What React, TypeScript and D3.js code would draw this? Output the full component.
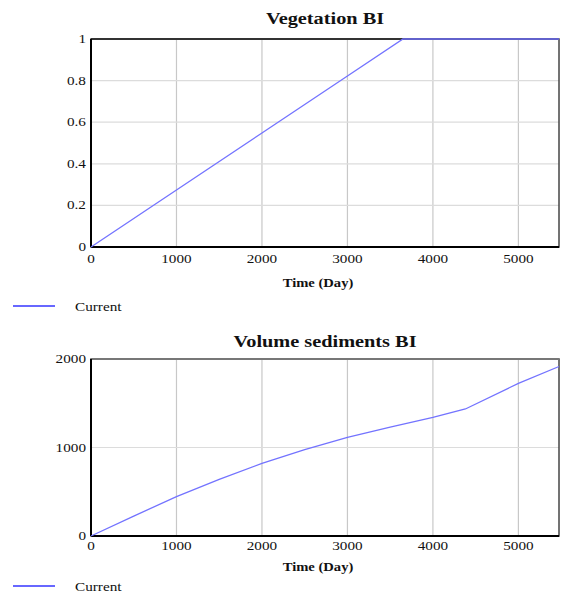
import React from 'react';
import * as d3 from 'd3';

// x axis shared by both panels (days)
const timeTicks = [0, 1000, 2000, 3000, 4000, 5000];
const timeMax = 5475;

// Vegetation BI
const vegTime = [0, 1000, 2000, 3000, 3650, 4500, 5475];
const vegValue = [0, 0.274, 0.548, 0.822, 1, 1, 1];
const vegTicks = [0, 0.2, 0.4, 0.6, 0.8, 1];

// Volume sediments BI
const sedTime = [0, 500, 1000, 1500, 2000, 2500, 3000, 3500, 4000, 4380, 5000, 5475];
const sedValue = [0, 225, 445, 640, 820, 975, 1115, 1230, 1340, 1435, 1725, 1915];
const sedTicks = [0, 1000, 2000];

const SX = 1.27; // the source image is stretched horizontally
const FONT = '"Liberation Serif", "Times New Roman", serif';

interface PanelProps {
  title: string;
  top: number;
  bottom: number;
  xs: number[];
  ys: number[];
  yMax: number;
  yTicks: number[];
  titleY: number;
  tickY: number;
  labelY: number;
  legendY: number;
  topStroke: string;
}

const T: React.FC<{ x: number; y: number; size: number; anchor?: string; weight?: string | number; children: React.ReactNode }> = ({ x, y, size, anchor = 'middle', weight = 'normal', children }) => (
  <text
    transform={`translate(${x},${y}) scale(${SX},1)`}
    textAnchor={anchor}
    fontSize={size}
    fontWeight={weight}
    fontFamily={FONT}
    fill="#111"
  >
    {children}
  </text>
);

const Panel: React.FC<PanelProps> = ({ title, top, bottom, xs, ys, yMax, yTicks, titleY, tickY, labelY, legendY, topStroke }) => {
  const left = 91;
  const right = 559;
  const x = d3.scaleLinear().domain([0, timeMax]).range([left, right]);
  const y = d3.scaleLinear().domain([0, yMax]).range([bottom, top]);
  const line = d3.line<number>()
    .x((_, i) => x(xs[i]))
    .y(d => y(d));

  return (
    <g>
      <T x={(left + right) / 2} y={titleY} size={16} weight={600}>{title}</T>

      {/* grid */}
      {timeTicks.filter(t => t > 0).map(t => (
        <line key={'vx' + t} x1={x(t)} x2={x(t)} y1={top} y2={bottom} stroke="#c8c8c8" strokeWidth={1.2} />
      ))}
      {yTicks.filter(t => t > 0 && t < yMax).map(t => (
        <line key={'hy' + t} x1={left} x2={right} y1={y(t)} y2={y(t)} stroke="#dcdcdc" strokeWidth={1.2} />
      ))}

      {/* frame */}
      <rect x={left} y={top} width={right - left} height={bottom - top} fill="none" stroke="#444" strokeWidth={1.5} />
      <line x1={left} x2={right} y1={top} y2={top} stroke={topStroke} strokeWidth={2} />
      <line x1={left} x2={left} y1={top} y2={bottom} stroke="#000" strokeWidth={2} />
      <line x1={left} x2={right} y1={bottom} y2={bottom} stroke="#000" strokeWidth={2} />

      <path d={line(ys) || ''} fill="none" stroke="#7373ff" strokeWidth={1.3} />

      {/* ticks */}
      {timeTicks.map(t => (
        <T key={'xt' + t} x={x(t)} y={tickY} size={12}>{t}</T>
      ))}
      {yTicks.map(t => (
        <T key={'yt' + t} x={86} y={y(t) + 4} size={12} anchor="end">{String(t)}</T>
      ))}

      <T x={318} y={labelY} size={11.5} weight="bold">Time (Day)</T>

      {/* legend */}
      <line x1={13} x2={55} y1={legendY} y2={legendY} stroke="#3535ff" strokeWidth={1.3} />
      <T x={75} y={legendY + 5} size={12} anchor="start">Current</T>
    </g>
  );
};

export default function App() {
  return (
    <svg
      width={561}
      height={593}
      style={{ position: 'absolute', left: 0, top: 0, background: '#fff' }}
    >
      <Panel
        title="Vegetation BI"
        top={39}
        bottom={247}
        xs={vegTime}
        ys={vegValue}
        yMax={1}
        yTicks={vegTicks}
        titleY={24}
        tickY={263}
        labelY={287}
        legendY={306}
        topStroke="#333"
      />
      <Panel
        title="Volume sediments BI"
        top={359}
        bottom={536}
        xs={sedTime}
        ys={sedValue}
        yMax={2000}
        yTicks={sedTicks}
        titleY={347}
        tickY={550}
        labelY={571}
        legendY={586}
        topStroke="#777"
      />
    </svg>
  );
}
